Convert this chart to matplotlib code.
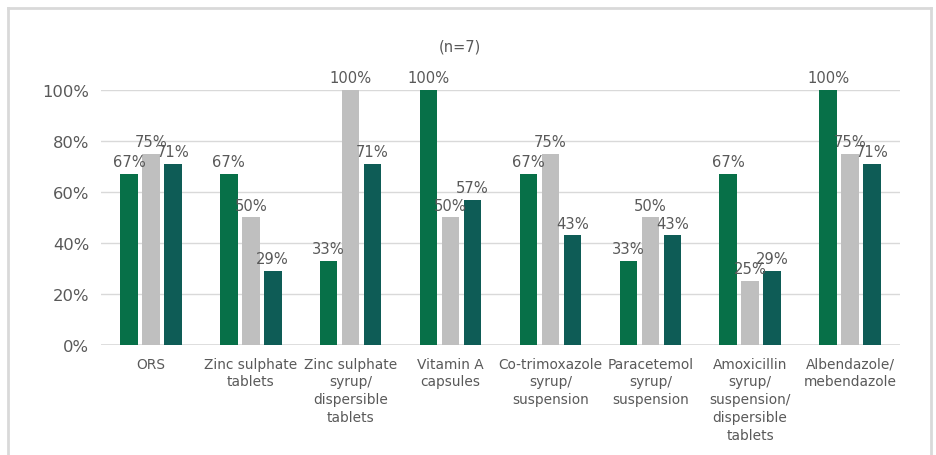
import matplotlib
matplotlib.use("Agg")
import matplotlib.pyplot as plt
import numpy as np

categories = [
    "ORS",
    "Zinc sulphate\ntablets",
    "Zinc sulphate\nsyrup/\ndispersible\ntablets",
    "Vitamin A\ncapsules",
    "Co-trimoxazole\nsyrup/\nsuspension",
    "Paracetemol\nsyrup/\nsuspension",
    "Amoxicillin\nsyrup/\nsuspension/\ndispersible\ntablets",
    "Albendazole/\nmebendazole",
]
series_a = [67, 67, 33, 100, 67, 33, 67, 100]
series_b = [75, 50, 100, 50, 75, 50, 25, 75]
series_c = [71, 29, 71, 57, 43, 43, 29, 71]
yticks = [0, 20, 40, 60, 80, 100]
title = "(n=7)"

colors = ["#077048", "#BFBFBF", "#0E5C56"]
text_color = "#595959"
grid_color = "#D9D9D9"

plt.rcParams["font.family"] = ["DejaVu Sans"]

fig = plt.figure(figsize=(9.36, 4.56), dpi=100)
ax = fig.add_axes([101 / 936, 110.3 / 456, 799 / 936, 254.7 / 456])

x = np.arange(len(categories))
offset = 0.22
width = 0.175
for i, (vals, col) in enumerate(zip([series_a, series_b, series_c], colors)):
    pos = x + (i - 1) * offset
    ax.bar(pos, vals, width=width, color=col, zorder=3)
    for xp, v in zip(pos, vals):
        ax.text(xp, v + 1.8, f"{v}%", ha="center", va="bottom",
                fontsize=10.6, color=text_color, zorder=4)

ax.set_xlim(-0.5, len(categories) - 0.5)
ax.set_ylim(0, 100)
ax.set_yticks(yticks)
ax.set_yticklabels([f"{t}%" for t in yticks], fontsize=11.8, color=text_color)
ax.set_xticks(x)
ax.set_xticklabels(categories, fontsize=9.9, color=text_color, linespacing=1.35)
ax.tick_params(axis="both", length=0)
ax.tick_params(axis="y", pad=8.6)
ax.tick_params(axis="x", pad=8.5)
ax.yaxis.grid(True, color=grid_color, linewidth=1, zorder=0)
for s in ax.spines.values():
    s.set_visible(False)
ax.axhline(0, color=grid_color, linewidth=1.2, zorder=2)

fig.text(460 / 936, 1 - 46.5 / 456, title, ha="center", va="center",
         fontsize=10.5, color=text_color)

# light frame around the chart area (open at the bottom)
fr = dict(color=grid_color, linewidth=2, transform=fig.transFigure)
fig.add_artist(plt.Line2D([8 / 936, 8 / 936], [0, 1 - 9 / 456], **fr))
fig.add_artist(plt.Line2D([931 / 936, 931 / 936], [0, 1 - 9 / 456], **fr))
fig.add_artist(plt.Line2D([8 / 936, 931 / 936], [1 - 9 / 456, 1 - 9 / 456], **fr))

fig.savefig("out.png", dpi=100)
